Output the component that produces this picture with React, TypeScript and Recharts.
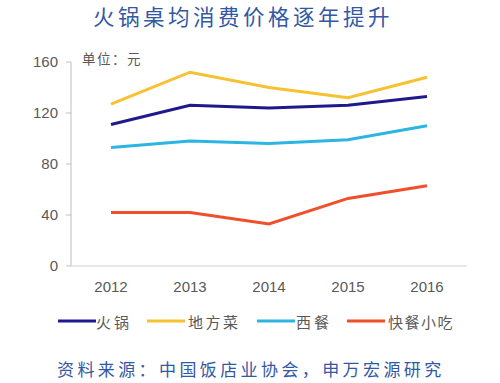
import React from 'react';
import { LineChart, Line, XAxis, YAxis } from 'recharts';

const years = ['2012', '2013', '2014', '2015', '2016'];
const hotpot = [111, 126, 124, 126, 133];
const regional = [127, 152, 140, 132, 148];
const western = [93, 98, 96, 99, 110];
const fastfood = [42, 42, 33, 53, 63];
const yTicks = [0, 40, 80, 120, 160];

const series = [
  { key: 'hotpot', name: '火锅', color: '#1f1a8c', values: hotpot },
  { key: 'regional', name: '地方菜', color: '#f6c232', values: regional },
  { key: 'western', name: '西餐', color: '#2cb4e2', values: western },
  { key: 'fastfood', name: '快餐小吃', color: '#ef4f2b', values: fastfood },
];

const data = years.map((y, i) => {
  const row: Record<string, string | number> = { year: y };
  series.forEach((s) => {
    row[s.key] = s.values[i];
  });
  return row;
});

const FONT = '"Liberation Sans", "Noto Sans CJK SC", sans-serif';
const CJK = '"Noto Sans CJK SC", sans-serif';

const legendLayout = [
  { lineX: 58, textX: 96, spacing: 3 },
  { lineX: 147, textX: 188, spacing: 2.5 },
  { lineX: 257, textX: 296, spacing: 3 },
  { lineX: 347, textX: 388, spacing: 1.5 },
];

export default function App() {
  return (
    <div style={{ position: 'absolute', left: 0, top: 0, width: 500, height: 383, background: '#fff' }}>
      <LineChart
        width={500}
        height={383}
        data={data}
        margin={{ top: 62, right: 33, bottom: 87, left: 0 }}
      >
        <XAxis
          dataKey="year"
          height={30}
          padding={{ left: 40, right: 40 }}
          tickLine={false}
          axisLine={{ stroke: '#d0d0d0' }}
          tick={{ fill: '#595959', fontSize: 15, fontFamily: FONT }}
          tickMargin={9}
        />
        <YAxis
          width={71}
          domain={[0, 160]}
          ticks={yTicks}
          interval={0}
          axisLine={{ stroke: '#bfbfbf' }}
          tickLine={{ stroke: '#bfbfbf' }}
          tickSize={5}
          tickMargin={8}
          tick={{ fill: '#595959', fontSize: 15, fontFamily: FONT }}
        />
        {series.map((s) => (
          <Line
            key={s.key}
            dataKey={s.key}
            name={s.name}
            stroke={s.color}
            strokeWidth={3}
            dot={false}
            activeDot={false}
            isAnimationActive={false}
          />
        ))}
      </LineChart>
      <svg
        width={500}
        height={383}
        style={{ position: 'absolute', left: 0, top: 0, pointerEvents: 'none' }}
      >
        <text x={243} y={25} textAnchor="middle" fontSize={21.5} letterSpacing={3.5} fill="#3358a4" fontFamily={CJK}>
          火锅桌均消费价格逐年提升
        </text>
        <text x={82} y={64} fontSize={13.5} letterSpacing={1.5} fill="#595959" fontFamily={CJK}>
          单位：元
        </text>
        {series.map((s, i) => (
          <g key={s.key}>
            <line x1={legendLayout[i].lineX} x2={legendLayout[i].lineX + 38} y1={321} y2={321} stroke={s.color} strokeWidth={3} />
            <text x={legendLayout[i].textX} y={328} fontSize={15} letterSpacing={legendLayout[i].spacing} fill="#595959" fontFamily={CJK}>
              {s.name}
            </text>
          </g>
        ))}
        <text x={57} y={376} fontSize={17} letterSpacing={3.4} fill="#3358a4" fontFamily={CJK}>
          资料来源：中国饭店业协会，申万宏源研究
        </text>
      </svg>
    </div>
  );
}
